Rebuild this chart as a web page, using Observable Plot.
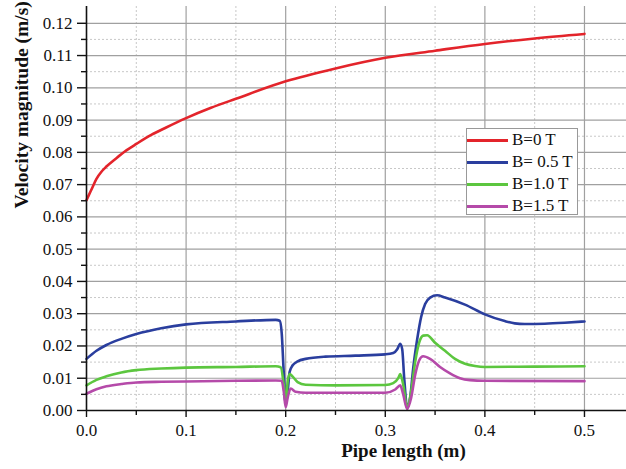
<!DOCTYPE html>
<html>
<head>
<meta charset="utf-8">
<script src="https://cdn.jsdelivr.net/npm/d3@7"></script>
<script src="https://cdn.jsdelivr.net/npm/@observablehq/plot@0.6"></script>
<style>
  body { margin: 0; background: #fff; overflow: hidden; }
  #wrap { position: relative; width: 626px; height: 469px; font-family: "Liberation Serif", "Times New Roman", serif; }
  #wrap svg text { font-family: "Liberation Serif", "Times New Roman", serif !important; }
  #legend { position: absolute; left: 466px; top: 128px; width: 112px; height: 87px; border: 1px solid #999; background: #fff; box-sizing: border-box; }
  .row { display: flex; align-items: center; height: 22px; font-size: 17px; color: #111; }
  .sw { width: 41px; height: 3px; margin-right: 4px; }
</style>
</head>
<body>
<div id="wrap"></div>
<script>
// ---- data ----
const seriesNames = ["B=0 T", "B= 0.5 T", "B=1.0 T", "B=1.5 T"];
const seriesColors = ["#e3242b", "#2a3e9e", "#5cc63f", "#b54aa9"];

const xRed = [0, 0.002, 0.005, 0.01, 0.015, 0.02, 0.03, 0.04, 0.05, 0.065, 0.08, 0.1, 0.125, 0.15, 0.2, 0.25, 0.3, 0.35, 0.4, 0.45, 0.5];
const yRed = [0.0652, 0.0665, 0.0685, 0.0718, 0.0740, 0.0756, 0.0782, 0.0806, 0.0826, 0.0854, 0.0877, 0.0906, 0.0938, 0.0966, 0.1020, 0.1060, 0.1093, 0.1115, 0.1136, 0.1153, 0.1167];

const xBlue = [0, 0.01, 0.02, 0.035, 0.05, 0.075, 0.1, 0.15, 0.19, 0.194, 0.196, 0.198, 0.2, 0.202, 0.204, 0.207, 0.212, 0.22, 0.24, 0.27, 0.3, 0.308, 0.312, 0.315, 0.317, 0.319, 0.322, 0.325, 0.328, 0.332, 0.336, 0.34, 0.345, 0.352, 0.36, 0.38, 0.4, 0.42, 0.43, 0.44, 0.46, 0.48, 0.5];
const yBlue = [0.0160, 0.0185, 0.0203, 0.0222, 0.0237, 0.0255, 0.0267, 0.0276, 0.0281, 0.0278, 0.0240, 0.0120, 0.0020, 0.0060, 0.0120, 0.0140, 0.0152, 0.0160, 0.0167, 0.0170, 0.0174, 0.0178, 0.0190, 0.0207, 0.0190, 0.0100, 0.0010, 0.0040, 0.0130, 0.0220, 0.0290, 0.0330, 0.0350, 0.0357, 0.0350, 0.0328, 0.0298, 0.0277, 0.0270, 0.0268, 0.0269, 0.0272, 0.0276];

const xGreen = [0, 0.01, 0.02, 0.035, 0.05, 0.075, 0.1, 0.15, 0.19, 0.195, 0.198, 0.2, 0.202, 0.204, 0.207, 0.212, 0.22, 0.25, 0.3, 0.308, 0.313, 0.315, 0.318, 0.322, 0.326, 0.33, 0.334, 0.338, 0.342, 0.35, 0.36, 0.37, 0.38, 0.39, 0.4, 0.45, 0.5];
const yGreen = [0.0078, 0.0095, 0.0106, 0.0118, 0.0125, 0.0130, 0.0133, 0.0135, 0.0137, 0.0134, 0.0080, 0.0020, 0.0090, 0.0113, 0.0105, 0.0088, 0.0080, 0.0078, 0.0079, 0.0085, 0.0100, 0.0113, 0.0080, 0.0010, 0.0060, 0.0150, 0.0210, 0.0232, 0.0233, 0.0210, 0.0185, 0.0160, 0.0145, 0.0138, 0.0135, 0.0136, 0.0137];

const xPink = [0, 0.01, 0.02, 0.035, 0.05, 0.075, 0.1, 0.15, 0.19, 0.196, 0.198, 0.2, 0.202, 0.205, 0.21, 0.22, 0.3, 0.31, 0.315, 0.318, 0.322, 0.326, 0.33, 0.334, 0.338, 0.345, 0.355, 0.365, 0.375, 0.385, 0.4, 0.5];
const yPink = [0.0052, 0.0066, 0.0075, 0.0082, 0.0087, 0.0089, 0.0090, 0.0092, 0.0093, 0.0092, 0.0060, 0.0010, 0.0040, 0.0068, 0.0058, 0.0055, 0.0055, 0.0065, 0.0078, 0.0050, 0.0005, 0.0040, 0.0110, 0.0155, 0.0168, 0.0160, 0.0135, 0.0115, 0.0100, 0.0094, 0.0092, 0.0091];

const xMajor = [0, 0.1, 0.2, 0.3, 0.4, 0.5];
const xMinor = [0.05, 0.15, 0.25, 0.35, 0.45];
const yMajor = [0, 0.01, 0.02, 0.03, 0.04, 0.05, 0.06, 0.07, 0.08, 0.09, 0.10, 0.11, 0.12];
const yMinor = [0.005, 0.015, 0.025, 0.035, 0.045, 0.055, 0.065, 0.075, 0.085, 0.095, 0.105, 0.115];

const xs = [xRed, xBlue, xGreen, xPink];
const ys = [yRed, yBlue, yGreen, yPink];
const rows = [];
seriesNames.forEach((s, i) => xs[i].forEach((x, j) => rows.push({series: s, x, y: ys[i][j]})));

const serif = '"Liberation Serif", "Times New Roman", serif';

const chart = Plot.plot({
  width: 626,
  height: 469,
  marginLeft: 86,
  marginRight: 0,
  marginTop: 6,
  marginBottom: 59,
  style: {fontFamily: serif, fontSize: "17px", color: "#111", background: "#fff"},
  x: {domain: [0, 0.5422], label: null},
  y: {domain: [0, 0.1252], label: null},
  color: {domain: seriesNames, range: seriesColors},
  marks: [
    Plot.ruleY(yMinor, {stroke: "#c8c8c8", strokeDasharray: "2,2", strokeWidth: 1}),
    Plot.ruleX(xMinor, {stroke: "#c8c8c8", strokeDasharray: "2,2", strokeWidth: 1}),
    Plot.ruleY(yMajor.filter(d => d > 0), {stroke: "#a0a0a0", strokeWidth: 1.2}),
    Plot.ruleX(xMajor.filter(d => d > 0), {stroke: "#a0a0a0", strokeWidth: 1.2}),
    Plot.line(rows, {x: "x", y: "y", z: "series", stroke: "series", strokeWidth: 2.6, curve: "monotone-x"}),
    Plot.axisY(yMajor, {tickSize: 9, tickPadding: 5, tickFormat: d3.format(".2f"), stroke: "#111", strokeWidth: 1.4, label: null, fontSize: 17, fontFamily: serif}),
    Plot.axisY(yMinor, {tickSize: 5, tickFormat: () => "", stroke: "#111", strokeWidth: 1.4, label: null}),
    Plot.axisX(xMajor, {tickSize: 7, tickPadding: 6, tickFormat: d3.format(".1f"), stroke: "#111", strokeWidth: 1.4, label: null, fontSize: 17, fontFamily: serif}),
    Plot.axisX(xMinor, {tickSize: 5, tickFormat: () => "", stroke: "#111", strokeWidth: 1.4, label: null}),
    Plot.ruleY([0], {stroke: "#111", strokeWidth: 1.6}),
    Plot.ruleX([0], {stroke: "#111", strokeWidth: 1.6}),
    Plot.text(["Pipe length (m)"], {frameAnchor: "bottom", dx: 47, dy: 46, fontWeight: "bold", fontSize: 19, fontFamily: serif, fill: "#111"}),
    Plot.text(["Velocity magnitude (m/s)"], {frameAnchor: "left", dx: -65, rotate: -90, fontWeight: "bold", fontSize: 19.5, fontFamily: serif, fill: "#111"})
  ]
});

const wrap = document.getElementById("wrap");
wrap.appendChild(chart);

const legend = document.createElement("div");
legend.id = "legend";
seriesNames.forEach((s, i) => {
  const r = document.createElement("div");
  r.className = "row";
  const sw = document.createElement("span");
  sw.className = "sw";
  sw.style.background = seriesColors[i];
  const t = document.createElement("span");
  t.textContent = s;
  r.appendChild(sw);
  r.appendChild(t);
  legend.appendChild(r);
});
wrap.appendChild(legend);
</script>
</body>
</html>
